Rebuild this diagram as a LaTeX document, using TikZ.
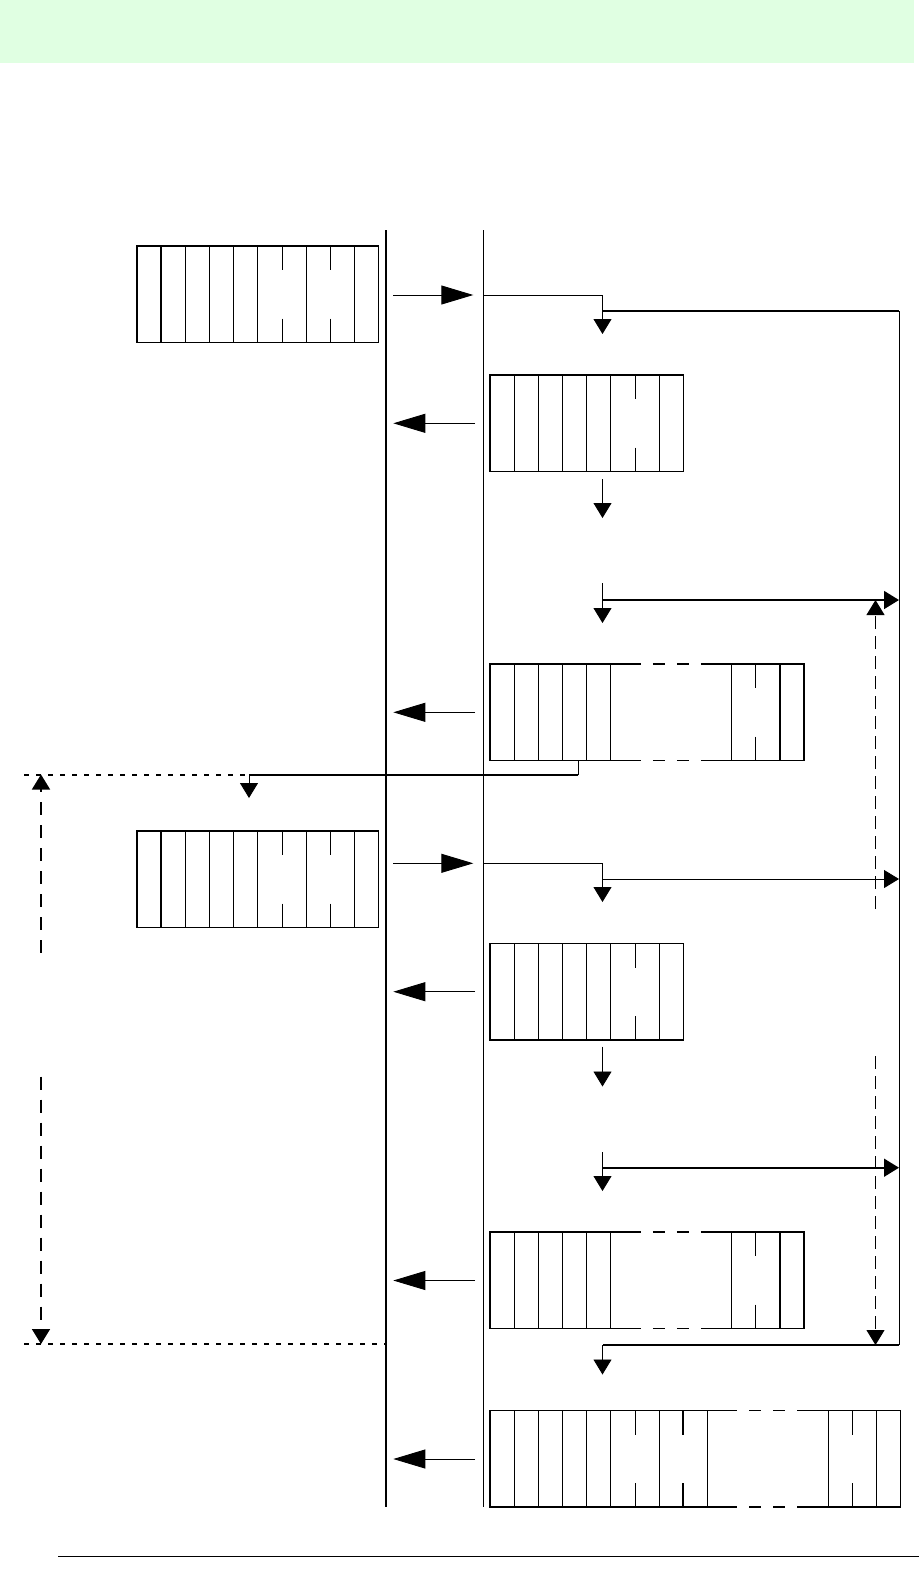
\documentclass[tikz,border=0pt]{standalone}
\usetikzlibrary{arrows.meta}
\definecolor{bandgreen}{RGB}{224,255,226}
\def\cellw{24.15}
\def\boxh{96.5}
\def\stubh{24}
\newcommand\cellvlines[2]{\foreach \i in {#2} \draw[#1] (\i*\cellw,0) -- (\i*\cellw,\boxh);}
\newcommand\cellsplitlines[2]{\foreach \i in {#2} {\draw[#1] (\i*\cellw,0) -- (\i*\cellw,\stubh); \draw[#1] (\i*\cellw,\boxh-\stubh) -- (\i*\cellw,\boxh);}}
\newcommand\cellgapedge[2]{%
  \draw[frame,dash pattern=on 30pt off 12pt on 12pt off 12pt on 12pt off 12pt on 31pt] (#1*\cellw,0) -- (#2*\cellw,0);
  \draw[frame,dash pattern=on 30pt off 12pt on 12pt off 12pt on 12pt off 12pt on 31pt] (#1*\cellw,\boxh) -- (#2*\cellw,\boxh);}
% ten-cell request box
\newcommand\boxten[3]{\begin{scope}[shift={(#2,#3)}]
  \coordinate (#1) at (0,0);
  \draw[frame] (0,0) rectangle (10*\cellw,\boxh);
  \cellvlines{cell}{2,3,4,5,7}\cellvlines{cellthick}{1,9}\cellsplitlines{cell}{6,8}
  \end{scope}}
% eight-cell reply box
\newcommand\boxeight[3]{\begin{scope}[shift={(#2,#3)}]
  \coordinate (#1) at (0,0);
  \draw[frame] (0,0) rectangle (8*\cellw,\boxh);
  \cellvlines{cell}{1,2,3,4,5,7}\cellsplitlines{cell}{6}
  \end{scope}}
% thirteen-cell box with gap
\newcommand\boxgap[3]{\begin{scope}[shift={(#2,#3)}]
  \coordinate (#1) at (0,0);
  \draw[frame] (5*\cellw,0) -- (0,0) -- (0,\boxh) -- (5*\cellw,\boxh);
  \draw[frame] (10*\cellw,0) -- (13*\cellw,0) -- (13*\cellw,\boxh) -- (10*\cellw,\boxh);
  \cellgapedge{5}{10}
  \cellvlines{cell}{1,2,3,4,5}\cellvlines{cellthick}{10,12}\cellsplitlines{cell}{11}
  \end{scope}}
% seventeen-cell box with gap
\newcommand\boxlong[3]{\begin{scope}[shift={(#2,#3)}]
  \coordinate (#1) at (0,0);
  \draw[frame] (9*\cellw,0) -- (0,0) -- (0,\boxh) -- (9*\cellw,\boxh);
  \draw[frame] (14*\cellw,0) -- (17*\cellw,0) -- (17*\cellw,\boxh) -- (14*\cellw,\boxh);
  \cellgapedge{9}{14}
  \cellvlines{cell}{1,2,3,4,5,7,14,16}\cellvlines{cellthick}{9}\cellsplitlines{cell}{6,15}\cellsplitlines{cellthick}{8}
  \end{scope}}
\begin{document}
\begin{tikzpicture}[x=1pt,y=-1pt,
  frame/.style={line width=1.3pt},
  cell/.style={line width=0.8pt},
  cellthick/.style={line width=1.5pt},
  thinc/.style={line width=0.9pt},
  thickc/.style={line width=1.6pt},
  small/.style={-{Triangle[length=15pt,width=18pt]}},
  big/.style={line width=0.9pt,-{Triangle[length=32pt,width=19pt]}},
  dashv/.style={line width=1pt,dash pattern=on 13pt off 7pt},
  dashl/.style={line width=1.6pt,dash pattern=on 13pt off 10pt},
  dotl/.style={line width=2pt,dash pattern=on 5pt off 7pt}]
\useasboundingbox (0,0) rectangle (919,1583);
\fill[bandgreen] (0,0) rectangle (914,63);

% time lines
\coordinate (L1t) at (386,230); \coordinate (L1b) at (386,1507);
\coordinate (L2t) at (483,230); \coordinate (L2b) at (483,1507);
\draw[line width=1.6pt] (L1t) -- (L1b);
\draw[line width=0.9pt] (L2t) -- (L2b);

% boxes
\boxten{B1}{137}{246}
\boxeight{B2}{490}{375}
\boxgap{B3}{490}{664}
\boxten{B4}{137}{831}
\boxeight{B5}{490}{943.5}
\boxgap{B6}{490}{1232}
\boxlong{B7}{490}{1410.5}

% big arrows between time lines
\foreach \n/\y in {1/295,4/863.3} {
  \coordinate (R\n a) at (393,\y); \coordinate (R\n b) at (473.3,\y);
  \draw[big] (R\n a) -- (R\n b);}
\foreach \n/\y in {2/423.3,3/712.3,5/991.7,6/1280.5,7/1459} {
  \coordinate (Q\n a) at (475,\y); \coordinate (Q\n b) at (393.3,\y);
  \draw[big] (Q\n a) -- (Q\n b);}

% column x
\def\cx{602.5}
\def\rx{899}
% row 1
\coordinate (s1) at (483,295); \coordinate (d1) at (\cx,334);
\draw[thinc,small] (s1) -| (d1);
\coordinate (h1a) at (\cx,311); \coordinate (h1b) at (\rx,311);
\coordinate (h9b) at (\rx,1345); \coordinate (h9a) at (\cx,1345);
\draw[thickc] (h1a) -- (h1b);
\draw[thinc] (h1b) -- (h9b);
\draw[thickc] (h9b) -- (h9a);
\coordinate (d9) at (\cx,1374.5);
\draw[thinc,small] (h9a) -- (d9);
% row 2
\coordinate (s2) at (\cx,479); \coordinate (d2) at (\cx,518);
\draw[thinc,small] (s2) -- (d2);
% row 3
\coordinate (s3) at (\cx,583); \coordinate (d3) at (\cx,623);
\draw[thinc,small] (s3) -- (d3);
\coordinate (h3a) at (\cx,600); \coordinate (h3b) at (\rx,600);
\draw[thickc,small] (h3a) -- (h3b);
\coordinate (v1a) at (875.5,909); \coordinate (v1b) at (875.5,600);
\draw[dashv,small] (v1a) -- (v1b);
% return to client
\coordinate (c3a) at (578.3,760); \coordinate (c3b) at (578.3,775);
\coordinate (c3c) at (249,775); \coordinate (c3d) at (249,798);
\draw[thinc] (c3a) -- (c3b);
\draw[thickc] (c3b) -- (c3c);
\draw[thinc,small] (c3c) -- (c3d);
\coordinate (t1a) at (24,775);
\draw[dotl] (t1a) -- (c3c);
\coordinate (w1a) at (41,952.7); \coordinate (w1b) at (41,774.5);
\draw[dashl,small] (w1a) -- (w1b);
% row 4
\coordinate (s4) at (483,863.3); \coordinate (d4) at (\cx,902);
\draw[thinc,small] (s4) -| (d4);
\coordinate (h4a) at (\cx,879); \coordinate (h4b) at (\rx,879);
\draw[thinc,small] (h4a) -- (h4b);
% row 5
\coordinate (s5) at (\cx,1046.7); \coordinate (d5) at (\cx,1086.5);
\draw[thinc,small] (s5) -- (d5);
% row 6
\coordinate (s6) at (\cx,1152.3); \coordinate (d6) at (\cx,1191);
\draw[thinc,small] (s6) -- (d6);
\coordinate (h6a) at (\cx,1167.7); \coordinate (h6b) at (\rx,1167.7);
\draw[thickc,small] (h6a) -- (h6b);
\coordinate (v2a) at (875.5,1056); \coordinate (v2b) at (875.5,1345);
\draw[dashv,small] (v2a) -- (v2b);
% left lower
\coordinate (w2a) at (41,1076.7); \coordinate (w2b) at (41,1344);
\draw[dashl,small] (w2a) -- (w2b);
\coordinate (t2a) at (24,1344.3); \coordinate (t2b) at (386,1344.3);
\draw[dotl] (t2a) -- (t2b);
% bottom rule
\coordinate (f1) at (58,1556); \coordinate (f2) at (919,1556);
\draw[line width=1pt] (f1) -- (f2);
\end{tikzpicture}
\end{document}
